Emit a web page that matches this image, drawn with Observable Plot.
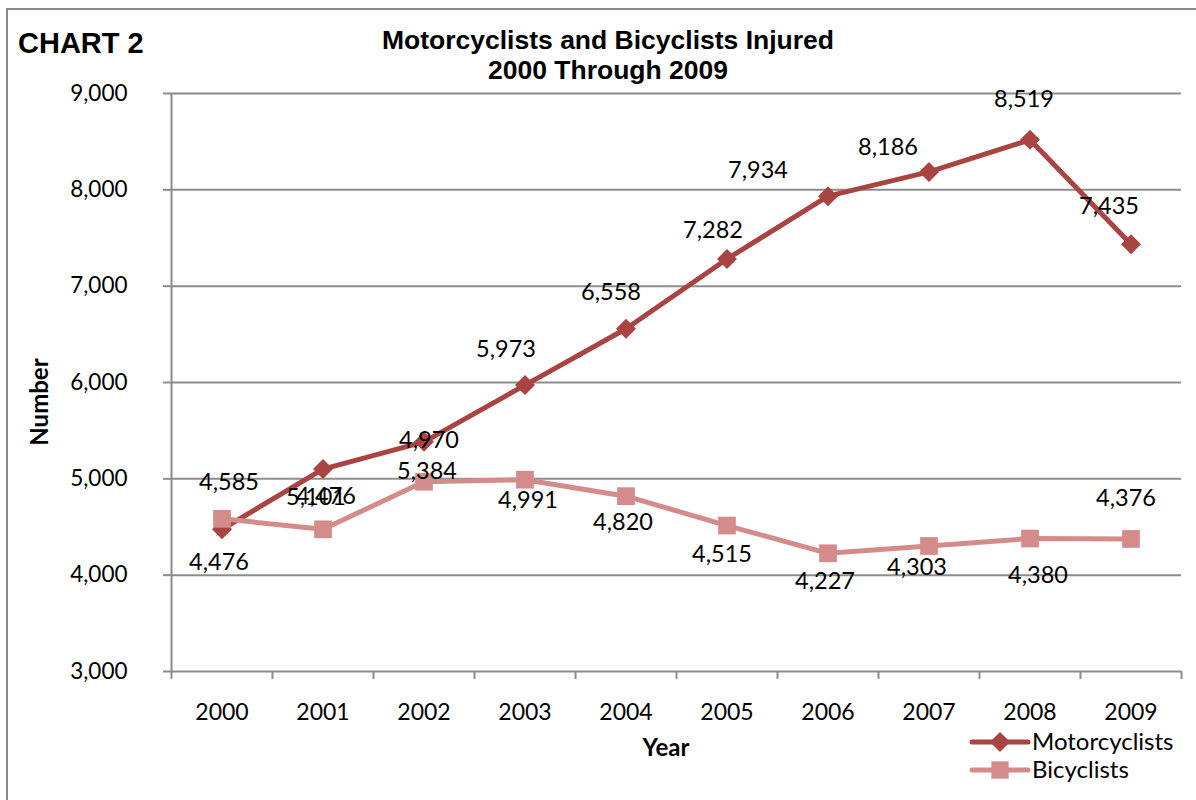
<!DOCTYPE html>
<html>
<head>
<meta charset="utf-8">
<script src="https://cdn.jsdelivr.net/npm/d3@7"></script>
<script src="https://cdn.jsdelivr.net/npm/@observablehq/plot@0.6"></script>
<style>
  html, body { margin: 0; padding: 0; background: #fff; }
  #wrap { position: relative; width: 1196px; height: 800px; overflow: hidden; font-family: Lato, "Open Sans", sans-serif; }
  #frame { position: absolute; left: 6px; top: 8px; width: 1200px; height: 800px; border: 2px solid #8a8a8a; box-sizing: border-box; }
  #chartno { position: absolute; left: 18px; top: 27px; font: bold 29px "Liberation Sans", Arial, sans-serif; color: #000; }
  #title { position: absolute; left: 258px; width: 700px; top: 25px; text-align: center; font: bold 26.5px/30px "Liberation Sans", Arial, sans-serif; color: #000; }
  #ylabel { position: absolute; left: 38px; top: 402px; transform: translate(-50%, -50%) rotate(-90deg); font: bold 24px Lato, sans-serif; }
  #xlabel { position: absolute; left: 666px; top: 746px; transform: translate(-50%, -50%); font: bold 24px Lato, sans-serif; }
  #plot { position: absolute; left: 0; top: 0; }
  #legend { position: absolute; left: 968px; top: 727px; }
</style>
</head>
<body>
<div id="wrap">
  <div id="frame"></div>
  <div id="plot"></div>
  <div id="chartno">CHART 2</div>
  <div id="title">Motorcyclists and Bicyclists Injured<br>2000 Through 2009</div>
  <div id="ylabel">Number</div>
  <div id="xlabel">Year</div>
  <div id="legend"></div>
</div>
<script>
// ---- data ----
const years = [2000, 2001, 2002, 2003, 2004, 2005, 2006, 2007, 2008, 2009];
const motorcyclists = [4476, 5101, 5384, 5973, 6558, 7282, 7934, 8186, 8519, 7435];
const bicyclists = [4585, 4476, 4970, 4991, 4820, 4515, 4227, 4303, 4380, 4376];
const yTicks = [3000, 4000, 5000, 6000, 7000, 8000, 9000];
const seriesNames = ["Motorcyclists", "Bicyclists"];

// ---- label nudges (pixels, relative to each point) ----
const motoLabelDx = [-3, -7, 3, -19, -15, -14, -70, -41, -6, -22];
const motoLabelDy = [33, 28, 30, -36, -36, -29, -26, -24, -40, -38];
const bikeLabelDx = [7, 3, 5, 3, -3, -5, -3, -12, 8, -5];
const bikeLabelDy = [-36, -33, -41, 21, 26, 29, 28, 21, 37, -40];

const motoColor = "#A94442";
const bikeColor = "#D48C8B";

const moto = years.map((y, i) => ({year: y, value: motorcyclists[i]}));
const bike = years.map((y, i) => ({year: y, value: bicyclists[i]}));
const boundaries = d3.range(years.length + 1).map(i => years[0] - 0.5 + i);
const fmt = d3.format(",");

const labelMarks = [];
moto.forEach((d, i) => labelMarks.push(Plot.text([d], {x: "year", y: "value", text: d => fmt(d.value), dx: motoLabelDx[i], dy: motoLabelDy[i], fontSize: 23.5, fill: "#000"})));
bike.forEach((d, i) => labelMarks.push(Plot.text([d], {x: "year", y: "value", text: d => fmt(d.value), dx: bikeLabelDx[i], dy: bikeLabelDy[i], fontSize: 23.5, fill: "#000"})));

const chart = Plot.plot({
  width: 1196,
  height: 800,
  marginLeft: 171,
  marginRight: 15,
  marginTop: 93,
  marginBottom: 129,
  style: {fontFamily: "Lato, 'Open Sans', sans-serif", background: "transparent", overflow: "visible"},
  x: {type: "linear", domain: [years[0] - 0.5, years[years.length - 1] + 0.5], axis: null},
  y: {domain: [3000, 9000], axis: null},
  marks: [
    Plot.ruleY(yTicks.slice(1), {stroke: "#8c8c8c", strokeWidth: 2}),
    Plot.axisY({ticks: yTicks, tickSize: 8, tickPadding: 36, tickFormat: fmt, fontSize: 22.5, stroke: "#8c8c8c", strokeWidth: 2, label: null, color: "#000"}),
    Plot.axisX({ticks: boundaries, tickSize: 8, tickFormat: () => "", stroke: "#8c8c8c", strokeWidth: 2, label: null}),
    Plot.axisX({ticks: years, tickSize: 0, tickPadding: 32, tickFormat: d => String(d), fontSize: 23, label: null}),
    Plot.ruleX([years[0] - 0.5], {stroke: "#8c8c8c", strokeWidth: 2}),
    Plot.ruleY([3000], {stroke: "#8c8c8c", strokeWidth: 2}),
    Plot.line(moto, {x: "year", y: "value", stroke: motoColor, strokeWidth: 5}),
    Plot.dot(moto, {x: "year", y: "value", symbol: "diamond2", r: 9, fill: motoColor, stroke: null}),
    Plot.line(bike, {x: "year", y: "value", stroke: bikeColor, strokeWidth: 5}),
    Plot.dot(bike, {x: "year", y: "value", symbol: "square", r: 10, fill: bikeColor, stroke: null}),
    ...labelMarks
  ]
});
document.getElementById("plot").appendChild(chart);

// ---- legend ----
const lg = d3.select("#legend").append("svg").attr("width", 228).attr("height", 60);
const items = [{name: seriesNames[0], color: motoColor, sym: d3.symbolDiamond2, size: 260},
               {name: seriesNames[1], color: bikeColor, sym: d3.symbolSquare, size: 300}];
items.forEach((it, i) => {
  const cy = 15 + i * 28;
  lg.append("line").attr("x1", 4).attr("x2", 60).attr("y1", cy).attr("y2", cy)
    .attr("stroke", it.color).attr("stroke-width", 5).attr("stroke-linecap", "round");
  lg.append("path").attr("d", d3.symbol(it.sym, it.size)()).attr("transform", `translate(32,${cy})`).attr("fill", it.color);
  lg.append("text").attr("x", 64).attr("y", cy).attr("dy", "0.35em").attr("font-size", 24)
    .attr("font-family", "Lato, 'Open Sans', sans-serif").text(it.name);
});
</script>
</body>
</html>
